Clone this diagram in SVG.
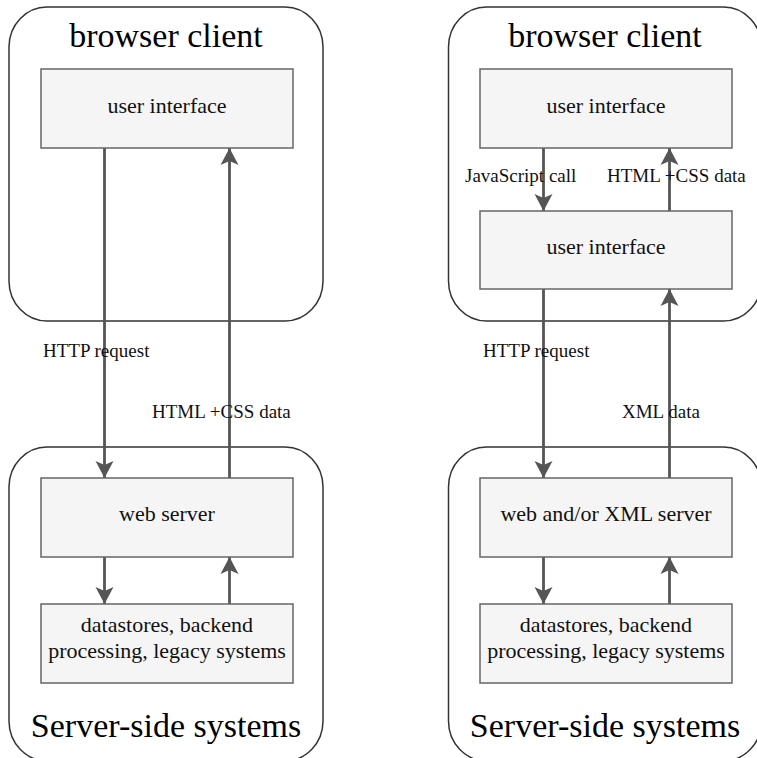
<svg xmlns="http://www.w3.org/2000/svg" width="757" height="758" viewBox="0 0 757 758">
<style>
.cont{fill:#ffffff;stroke:#333333;stroke-width:1.5}
.box{fill:#f5f5f5;stroke:#666666;stroke-width:1.5}
.big{font-family:"Liberation Serif","Times New Roman",serif;font-size:34px;fill:#000;text-anchor:middle}
.t{font-family:"Liberation Serif","Times New Roman",serif;font-size:22px;fill:#111;text-anchor:middle}
.lbl{font-family:"Liberation Serif","Times New Roman",serif;font-size:19px;fill:#111}
.edge{stroke:#555555;stroke-width:2.8;fill:none;marker-end:url(#ah)}
</style>
<defs>
<marker id="ah" markerUnits="userSpaceOnUse" markerWidth="20" markerHeight="20" viewBox="0 0 20 20" refX="17" refY="10" orient="auto">
<path d="M17,10 L0,1 L4,10 L0,19 Z" fill="#555555"/>
</marker>
</defs>
<rect width="757" height="758" fill="#ffffff"/>
<g id="left-browser-client">
<rect class="cont" x="9" y="7" width="314" height="314" rx="38" ry="40"/>
<text class="big" x="166" y="47">browser client</text>
</g>
<g id="left-server-side">
<rect class="cont" x="9" y="447" width="314" height="314" rx="38" ry="40"/>
<text class="big" x="166" y="737">Server-side systems</text>
</g>
<g id="right-browser-client">
<rect class="cont" x="448.5" y="7" width="313" height="314" rx="38" ry="40"/>
<text class="big" x="605" y="47">browser client</text>
</g>
<g id="right-server-side">
<rect class="cont" x="448.5" y="447" width="313" height="314" rx="38" ry="40"/>
<text class="big" x="605" y="737">Server-side systems</text>
</g>
<g id="connectors">
<line class="edge" x1="104.5" y1="148" x2="104.5" y2="478"/>
<line class="edge" x1="229.5" y1="478" x2="229.5" y2="148"/>
<line class="edge" x1="104.5" y1="557" x2="104.5" y2="604"/>
<line class="edge" x1="229.5" y1="604" x2="229.5" y2="557"/>
<line class="edge" x1="543.5" y1="148" x2="543.5" y2="211"/>
<line class="edge" x1="669.5" y1="211" x2="669.5" y2="148"/>
<line class="edge" x1="543.5" y1="289" x2="543.5" y2="478"/>
<line class="edge" x1="669.5" y1="478" x2="669.5" y2="289"/>
<line class="edge" x1="543.5" y1="557" x2="543.5" y2="604"/>
<line class="edge" x1="669.5" y1="604" x2="669.5" y2="557"/>
<text class="lbl" x="43" y="357">HTTP request</text>
<text class="lbl" x="152" y="418">HTML +CSS data</text>
<text class="lbl" x="465" y="182">JavaScript call</text>
<text class="lbl" x="607" y="182">HTML +CSS data</text>
<text class="lbl" x="483" y="357">HTTP request</text>
<text class="lbl" x="622" y="418">XML data</text>
</g>
<g id="left-ui">
<rect class="box" x="41" y="69" width="252" height="79"/>
<text class="t" x="167" y="113">user interface</text>
</g>
<g id="left-web-server">
<rect class="box" x="41" y="478" width="252" height="79"/>
<text class="t" x="167" y="521">web server</text>
</g>
<g id="left-datastores">
<rect class="box" x="41" y="604" width="252" height="79"/>
<text class="t" x="167" y="632">datastores, backend</text>
<text class="t" x="167" y="658">processing, legacy systems</text>
</g>
<g id="right-ui">
<rect class="box" x="480" y="69" width="252" height="79"/>
<text class="t" x="606" y="113">user interface</text>
</g>
<g id="right-ui-2">
<rect class="box" x="480" y="211" width="252" height="78"/>
<text class="t" x="606" y="254">user interface</text>
</g>
<g id="right-web-xml-server">
<rect class="box" x="480" y="478" width="252" height="79"/>
<text class="t" x="606" y="521">web and/or XML server</text>
</g>
<g id="right-datastores">
<rect class="box" x="480" y="604" width="252" height="79"/>
<text class="t" x="606" y="632">datastores, backend</text>
<text class="t" x="606" y="658">processing, legacy systems</text>
</g>
</svg>
